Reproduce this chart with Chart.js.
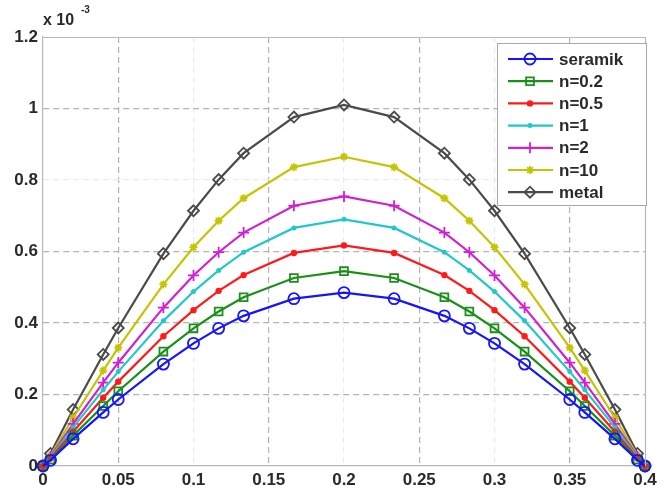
<!DOCTYPE html>
<html>
<head>
<meta charset="utf-8">
<script src="https://cdn.jsdelivr.net/npm/chart.js@4/dist/chart.umd.min.js"></script>
<style>
html,body{margin:0;padding:0;background:#fff;}
#wrap{position:relative;width:670px;height:493px;}
canvas{display:block;}
</style>
</head>
<body>
<div id="wrap"><canvas id="c" width="670" height="493"></canvas></div>
<script>
// x positions (m)
const xValues = [0, 0.005, 0.02, 0.04, 0.05, 0.08, 0.1, 0.1167, 0.1333, 0.1667, 0.2, 0.2333, 0.2667, 0.2833, 0.3, 0.32, 0.35, 0.36, 0.38, 0.395, 0.4];
// deflection values (x 10^-3)
const seramik = [0, 0.016, 0.076, 0.150, 0.186, 0.285, 0.343, 0.385, 0.420, 0.468, 0.485, 0.468, 0.420, 0.385, 0.343, 0.285, 0.186, 0.150, 0.076, 0.016, 0];
const n02     = [0, 0.018, 0.085, 0.168, 0.209, 0.320, 0.385, 0.432, 0.472, 0.526, 0.545, 0.526, 0.472, 0.432, 0.385, 0.320, 0.209, 0.168, 0.085, 0.018, 0];
const n05     = [0, 0.022, 0.096, 0.191, 0.236, 0.363, 0.436, 0.490, 0.534, 0.596, 0.617, 0.596, 0.534, 0.490, 0.436, 0.363, 0.236, 0.191, 0.096, 0.022, 0];
const n1      = [0, 0.025, 0.108, 0.213, 0.264, 0.406, 0.488, 0.547, 0.598, 0.666, 0.690, 0.666, 0.598, 0.547, 0.488, 0.406, 0.264, 0.213, 0.108, 0.025, 0];
const n2      = [0, 0.027, 0.118, 0.233, 0.289, 0.443, 0.533, 0.598, 0.653, 0.728, 0.754, 0.728, 0.653, 0.598, 0.533, 0.443, 0.289, 0.233, 0.118, 0.027, 0];
const n10     = [0, 0.030, 0.135, 0.267, 0.331, 0.508, 0.612, 0.686, 0.749, 0.836, 0.865, 0.836, 0.749, 0.686, 0.612, 0.508, 0.331, 0.267, 0.135, 0.030, 0];
const metal   = [0, 0.035, 0.158, 0.312, 0.386, 0.594, 0.714, 0.801, 0.875, 0.976, 1.010, 0.976, 0.875, 0.801, 0.714, 0.594, 0.386, 0.312, 0.158, 0.035, 0];

const seriesNames = ['seramik', 'n=0.2', 'n=0.5', 'n=1', 'n=2', 'n=10', 'metal'];
const seriesData = [seramik, n02, n05, n1, n2, n10, metal];
const xTicks = [0, 0.05, 0.1, 0.15, 0.2, 0.25, 0.3, 0.35, 0.4];
const yTicks = [0, 0.2, 0.4, 0.6, 0.8, 1, 1.2];

const colors  = ['#1414ff', '#1a8f1a', '#ff1a1a', '#22c8c8', '#d020d0', '#c4c400', '#4a4a4a'];
const markers = ['circle', 'rect', 'circle', 'circle', 'cross', 'star', 'rectRot'];
const radii   = [5.5, 5.5, 2.3, 1.6, 5.5, 4, 5.5];
const filled  = [false, false, true, true, false, false, false];

const FONT = 'Liberation Sans, Arial, Helvetica, sans-serif';

const datasets = seriesData.map((arr, i) => ({
  label: seriesNames[i],
  data: arr.map((v, j) => ({x: xValues[j], y: v})),
  borderColor: colors[i],
  backgroundColor: filled[i] ? colors[i] : 'rgba(0,0,0,0)',
  pointBorderColor: colors[i],
  pointBackgroundColor: filled[i] ? colors[i] : 'rgba(255,255,255,0)',
  pointStyle: markers[i],
  pointRadius: radii[i],
  pointBorderWidth: 1.8,
  borderWidth: 2.2,
  tension: 0,
  fill: false,
  clip: false
}));

const faintX = [0.1, 0.2, 0.3];
const faintY = [0.8];
function near(v, list){ return list.some(t => Math.abs(t - v) < 1e-6); }

const frameAndLegend = {
  id: 'frameAndLegend',
  afterDraw(chart) {
    const ctx = chart.ctx;
    const a = chart.chartArea;
    ctx.save();
    // box frame (top & right)
    ctx.strokeStyle = '#b8b8b8';
    ctx.lineWidth = 1.2;
    ctx.setLineDash([]);
    ctx.beginPath();
    ctx.moveTo(a.left, a.top + 0.5);
    ctx.lineTo(a.right + 0.5, a.top + 0.5);
    ctx.lineTo(a.right + 0.5, a.bottom);
    ctx.stroke();

    // exponent label
    ctx.fillStyle = '#2a2a2a';
    ctx.textBaseline = 'alphabetic';
    ctx.textAlign = 'left';
    ctx.font = 'bold 16px ' + FONT;
    ctx.fillText('x 10', a.left, 25);
    ctx.font = 'bold 10px ' + FONT;
    ctx.fillText('-3', a.left + 38, 13);

    // legend
    const lx = 497, ly = 43, lw = 149, lh = 162;
    ctx.fillStyle = '#fff';
    ctx.fillRect(lx, ly, lw, lh);
    ctx.strokeStyle = '#a8a8a8';
    ctx.lineWidth = 1;
    ctx.strokeRect(lx + 0.5, ly + 0.5, lw, lh);
    const rowY0 = 59, rowH = 22.2;
    chart.data.datasets.forEach((ds, i) => {
      const y = rowY0 + i * rowH;
      ctx.strokeStyle = ds.borderColor;
      ctx.lineWidth = 2.2;
      ctx.beginPath();
      ctx.moveTo(508, y);
      ctx.lineTo(553, y);
      ctx.stroke();
      ctx.fillStyle = ds.pointBackgroundColor;
      ctx.strokeStyle = ds.pointBorderColor;
      ctx.lineWidth = ds.pointBorderWidth;
      Chart.helpers.drawPoint(ctx, {pointStyle: ds.pointStyle, radius: ds.pointRadius, borderWidth: ds.pointBorderWidth, rotation: 0}, 530, y);
      ctx.fillStyle = '#2a2a2a';
      ctx.font = 'bold 17px ' + FONT;
      ctx.textBaseline = 'middle';
      ctx.textAlign = 'left';
      ctx.fillText(ds.label, 559, y + 1);
    });
    ctx.restore();
  }
};

new Chart(document.getElementById('c'), {
  type: 'line',
  data: { datasets },
  plugins: [frameAndLegend],
  options: {
    responsive: false,
    animation: false,
    devicePixelRatio: 1,
    layout: { padding: { top: 37, right: 25, left: 0, bottom: 0 } },
    plugins: { legend: { display: false }, tooltip: { enabled: false } },
    scales: {
      x: {
        type: 'linear',
        min: 0, max: 0.4,
        afterBuildTicks(axis) { axis.ticks = xTicks.map(v => ({value: v})); },
        afterFit(axis) { axis.height = 27; },
        ticks: {
          color: '#2a2a2a',
          font: { family: FONT, size: 17, weight: 'bold' },
          padding: 4,
          maxRotation: 0,
          autoSkip: false,
          callback: v => String(+v.toFixed(2))
        },
        grid: {
          drawTicks: false,
          color: c => (c.tick && (c.tick.value === 0 || c.tick.value === 0.4)) ? 'rgba(0,0,0,0)' : (near(c.tick.value, faintX) ? '#ececec' : '#b4b4b4'),
          lineWidth: 1.2
        },
        border: { display: true, color: '#b8b8b8', width: 1.2, dash: [6, 4] }
      },
      y: {
        type: 'linear',
        min: 0, max: 1.2,
        afterBuildTicks(axis) { axis.ticks = yTicks.map(v => ({value: v})); },
        afterFit(axis) { axis.width = 43; },
        ticks: {
          color: '#2a2a2a',
          font: { family: FONT, size: 17, weight: 'bold' },
          padding: 5,
          autoSkip: false,
          callback: v => String(+v.toFixed(1))
        },
        grid: {
          drawTicks: false,
          color: c => (c.tick && (c.tick.value === 0 || Math.abs(c.tick.value - 1.2) < 1e-6)) ? 'rgba(0,0,0,0)' : (near(c.tick.value, faintY) ? '#ececec' : '#b4b4b4'),
          lineWidth: 1.2
        },
        border: { display: true, color: '#b8b8b8', width: 1.2, dash: [6, 4] }
      }
    }
  }
});
</script>
</body>
</html>
